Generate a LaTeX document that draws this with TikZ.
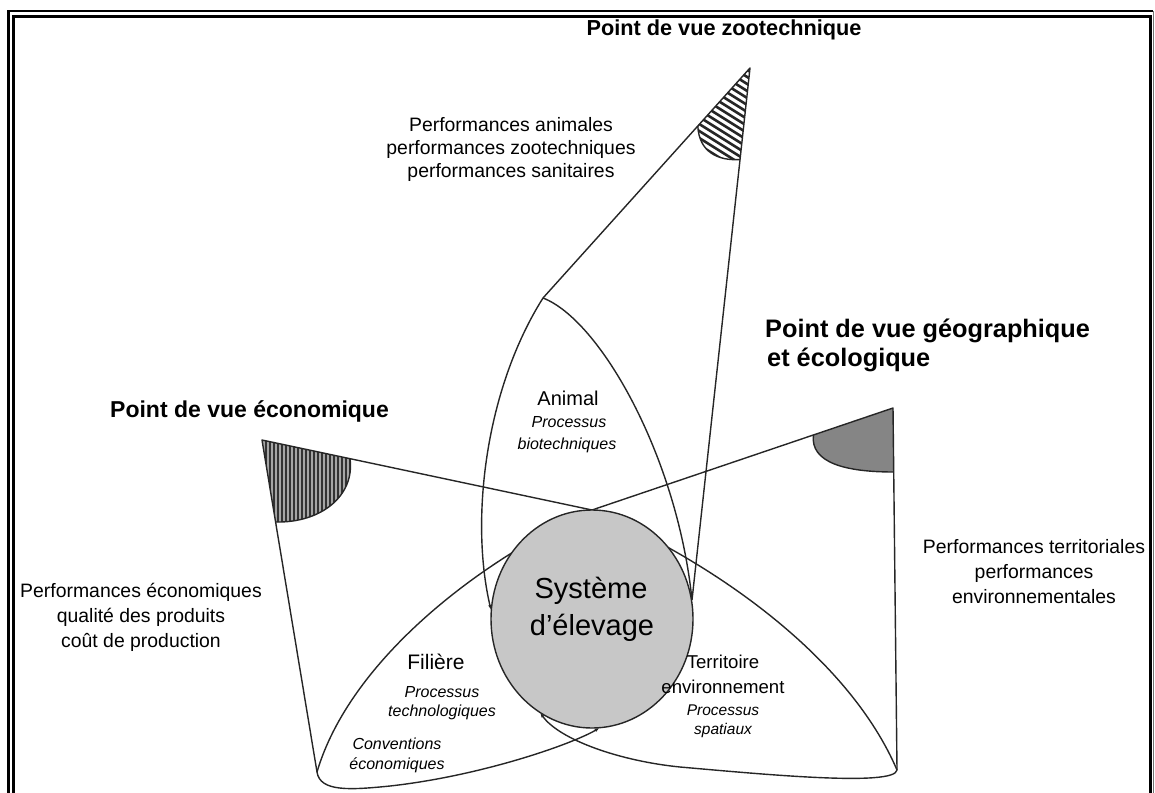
\documentclass[tikz,border=0pt]{standalone}
\usepackage{fontspec}
\setmainfont{Liberation Sans}
\usetikzlibrary{arrows.meta,shapes.geometric}

\begin{document}
\begin{tikzpicture}[x=1pt,y=-1pt,
  ln/.style={line width=1.4pt, draw=black!85, line join=round},
  tipend/.style={-{Latex[length=5pt,width=3.5pt]}},
  ttl/.style={inner sep=0pt, anchor=base west},
  perf/.style={font=\fontsize{19.4}{25}\selectfont, inner sep=0pt, anchor=base},
  proc/.style={font=\fontsize{16}{20}\selectfont\itshape, inner sep=0pt, anchor=base},
]
\useasboundingbox (0,0) rectangle (1155,792);

% double frame
\draw[line width=2.6pt] (8.5,800) -- (8.5,11) -- (1153,11);
\draw[line width=1pt, black!55] (1153.5,11) -- (1153.5,800);
\draw[line width=3pt] (13.5,800) -- (13.5,17) -- (1150,17) -- (1150,800);

% key points
\coordinate (zA) at (750,68);    % apex, zootechnical view
\coordinate (zL) at (543,298);
\coordinate (zR) at (692,600);
\coordinate (eA) at (262,440);   % apex, economic view
\coordinate (eB) at (317,772);
\coordinate (gA) at (893,408);   % apex, geographic view
\coordinate (gB) at (897,770);
\coordinate (top) at (592,510);
\coordinate (lw) at (491,610);

% central system (shape only, text set below)
\node[ellipse, minimum width=202pt, minimum height=218pt, inner sep=0pt] (sys) at (592,619) {};

% --- shaded sectors at the three apexes ---
% zootechnical: diagonal hatching
\begin{scope}
  \clip (zA) -- (697.8,126) .. controls (699,152) and (718,161) .. (740,159.5) -- cycle;
  \foreach \k in {-60,-53,...,140}
    \draw[line width=2.6pt, black!85] (640,\k) -- (800,\k+100);
\end{scope}
\draw[ln] (697.8,126) .. controls (699,152) and (718,161) .. (740,159.5);

% economic: vertical stripes
\begin{scope}
  \clip (eA) -- (350,458.7) .. controls (355,495) and (322,523) .. (275.6,522) -- cycle;
  \fill[black!35] (250,430) rectangle (360,530);
  \foreach \x in {262,266,...,358}
    \draw[line width=1.3pt, black!80] (\x,430) -- (\x,530);
\end{scope}
\draw[ln] (350,458.7) .. controls (355,495) and (322,523) .. (275.6,522);

% geographic: grey fill
\fill[black!48] (gA) -- (813.4,434.8) .. controls (810,463) and (846,472) .. (893.7,472) -- cycle;
\draw[ln] (813.4,434.8) .. controls (810,463) and (846,472) .. (893.7,472);

% --- cones of view ---
\draw[ln] (zL) -- (zA) -- (zR);
\draw[ln] (eB) -- (eA) -- (top) .. controls (720,565) and (850,660) .. (gB);
\draw[ln] (gB) -- (gA) -- (top) .. controls (480,560) and (350,660) .. (eB);

% animal lens
\draw[ln, tipend] (zL) .. controls (485,390) and (470,520) .. (lw);
\draw[ln, tipend] (zL) .. controls (600,320) and (676,455) .. (zR);

% lower edges of the two bottom lenses
\draw[ln, tipend] (eB) .. controls (320,792) and (350,790) .. (390,786)
  .. controls (480,776) and (570,745) .. (sys.274);
\draw[ln, tipend] (gB) .. controls (895,787) and (760,774) .. (680,767)
  .. controls (620,761) and (560,740) .. (sys.241);

% central system drawn on top
\node[ellipse, minimum width=202pt, minimum height=218pt, inner sep=0pt,
      fill=black!22, draw=black!85, line width=1.4pt] (sysdisc) at (sys.center) {};

% --- titles ---
\node[ttl, anchor=base, font=\fontsize{21.7}{26}\selectfont\bfseries] (tZoo) at (724,36) {Point de vue zootechnique};
\node[ttl, font=\fontsize{23}{27}\selectfont\bfseries] (tEco) at (110,417) {Point de vue économique};
\node[ttl, font=\fontsize{25.3}{29}\selectfont\bfseries] (tGeo1) at (765,337) {Point de vue géographique};
\node[ttl, font=\fontsize{25.3}{29}\selectfont\bfseries] (tGeo2) at (767,366) {et écologique};

% --- performance lists ---
\node[perf] (pZ1) at (511,131) {Performances animales};
\node[perf] (pZ2) at (511,154) {performances zootechniques};
\node[perf] (pZ3) at (511,177) {performances sanitaires};

\node[perf] (pE1) at (141,597) {Performances économiques};
\node[perf] (pE2) at (141,622) {qualité des produits};
\node[perf] (pE3) at (141,647) {coût de production};

\node[perf] (pT1) at (1034,553) {Performances territoriales};
\node[perf] (pT2) at (1034,578) {performances};
\node[perf] (pT3) at (1034,603) {environnementales};

% --- lens labels ---
\node[perf, font=\fontsize{20}{24}\selectfont] (lAnimal) at (568,405) {Animal};
\node[proc] (lAnimal2) at (569,427) {Processus};
\node[proc] (lAnimal3) at (567,449) {biotechniques};

\node[perf, font=\fontsize{29}{35}\selectfont] (lSys1) at (591,598) {Système};
\node[perf, font=\fontsize{29}{35}\selectfont] (lSys2) at (592,635) {d'élevage};

\node[perf, font=\fontsize{21}{25}\selectfont] (lFil) at (436,669) {Filière};
\node[proc] (lFil2) at (442,697) {Processus};
\node[proc] (lFil3) at (442,716) {technologiques};
\node[proc] (lConv1) at (397,749) {Conventions};
\node[proc] (lConv2) at (397,769) {économiques};

\node[perf, font=\fontsize{18.6}{22}\selectfont] (lTer1) at (723,668) {Territoire};
\node[perf, font=\fontsize{18.6}{22}\selectfont] (lTer2) at (723,693) {environnement};
\node[proc, font=\fontsize{15.5}{19}\selectfont\itshape] (lTer3) at (723,715) {Processus};
\node[proc, font=\fontsize{15.5}{19}\selectfont\itshape] (lTer4) at (723,734) {spatiaux};
\end{tikzpicture}
\end{document}
